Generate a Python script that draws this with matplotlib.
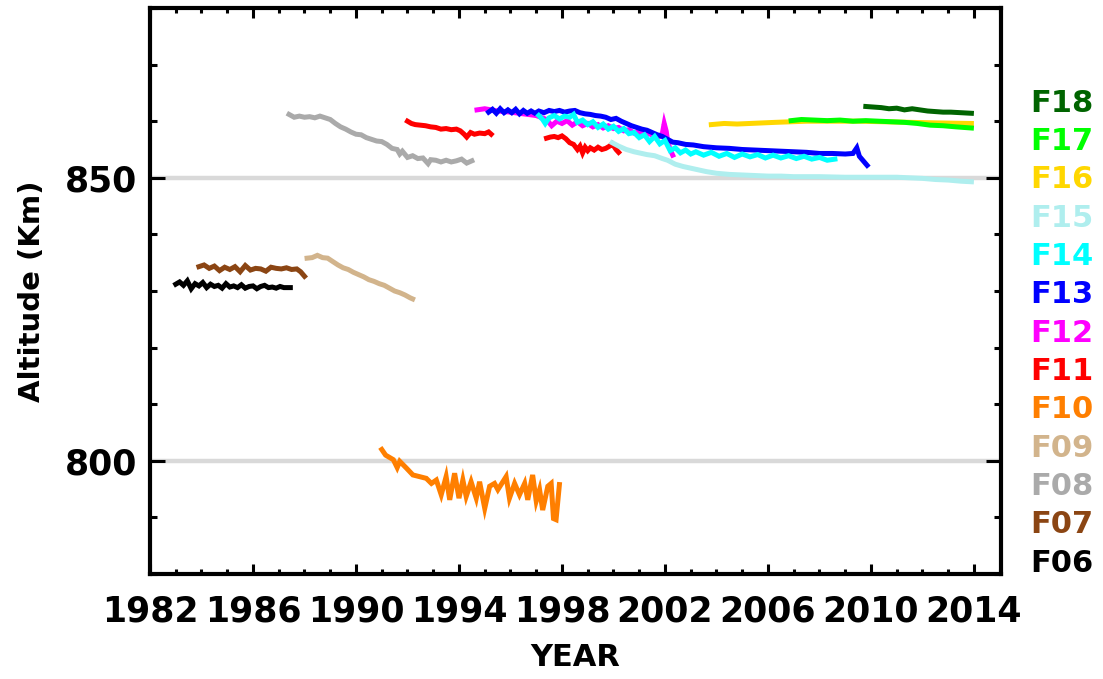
import numpy as np
import matplotlib
matplotlib.use("Agg")
import matplotlib.pyplot as plt

plt.rcParams['font.family'] = ['DejaVu Sans']
plt.rcParams['font.weight'] = 'bold'

# ---------------- data ----------------
f06_year = [1983.0, 1983.15, 1983.3, 1983.45, 1983.6, 1983.75, 1983.9, 1984.05, 1984.2, 1984.35,
            1984.5, 1984.65, 1984.8, 1984.95, 1985.1, 1985.25, 1985.4, 1985.55, 1985.7, 1985.85,
            1986.0, 1986.15, 1986.3, 1986.45, 1986.6, 1986.75, 1986.9, 1987.05, 1987.2, 1987.45]
f06_alt = [831.2, 831.6, 831.0, 831.8, 830.4, 831.3, 830.9, 831.5, 830.6, 831.2,
           830.8, 831.0, 830.5, 831.3, 830.7, 830.9, 830.6, 831.1, 830.5, 830.8,
           830.9, 830.4, 830.8, 831.0, 830.6, 830.7, 830.5, 830.8, 830.6, 830.6]

f07_year = [1983.9, 1984.1, 1984.3, 1984.5, 1984.7, 1984.9, 1985.1, 1985.3, 1985.5, 1985.7,
            1985.9, 1986.1, 1986.3, 1986.5, 1986.7, 1986.9, 1987.1, 1987.3, 1987.5, 1987.7,
            1987.85, 1988.0]
f07_alt = [834.3, 834.6, 834.0, 834.4, 833.6, 834.2, 833.8, 834.3, 833.4, 834.5,
           833.7, 834.0, 833.9, 833.5, 834.2, 834.0, 833.9, 834.1, 833.8, 833.9,
           833.4, 832.6]

f08_year = [1987.4, 1987.6, 1987.8, 1988.0, 1988.2, 1988.4, 1988.6, 1988.8, 1989.0, 1989.2,
            1989.4, 1989.6, 1989.8, 1990.0, 1990.2, 1990.4, 1990.6, 1990.8, 1991.0, 1991.2,
            1991.4, 1991.6, 1991.7, 1991.8, 1992.0, 1992.2, 1992.4, 1992.6, 1992.8, 1992.9,
            1993.1, 1993.3, 1993.5, 1993.7, 1993.9, 1994.1, 1994.3, 1994.5]
f08_alt = [861.2, 860.7, 860.9, 860.7, 860.8, 860.6, 860.9, 860.6, 860.3, 859.6,
           859.0, 858.6, 858.1, 857.7, 857.6, 857.1, 856.8, 856.5, 856.4, 855.9,
           855.2, 855.0, 854.2, 854.7, 853.6, 853.9, 853.4, 853.5, 852.5, 853.2,
           853.1, 852.8, 853.1, 852.8, 853.0, 853.3, 852.6, 853.0]

f09_year = [1988.1, 1988.3, 1988.5, 1988.7, 1988.9, 1989.1, 1989.3, 1989.5, 1989.7, 1989.9,
            1990.1, 1990.3, 1990.5, 1990.7, 1990.9, 1991.1, 1991.3, 1991.5, 1991.7, 1991.9,
            1992.1, 1992.2]
f09_alt = [835.8, 835.9, 836.3, 835.9, 835.8, 835.2, 834.6, 834.1, 833.8, 833.3,
           832.9, 832.5, 832.0, 831.7, 831.3, 831.0, 830.5, 830.0, 829.7, 829.3,
           828.8, 828.6]

f10_year = [1991.0, 1991.15, 1991.3, 1991.45, 1991.6, 1991.7, 1991.96, 1992.21, 1992.47, 1992.73,
            1992.93, 1993.12, 1993.31, 1993.5, 1993.64, 1993.83, 1994.0, 1994.15, 1994.28, 1994.47,
            1994.67, 1994.8, 1995.0, 1995.19, 1995.38, 1995.51, 1995.83, 1995.96, 1996.16, 1996.35,
            1996.55, 1996.67, 1996.86, 1997.0, 1997.13, 1997.25, 1997.45, 1997.58, 1997.67, 1997.77,
            1997.9]
f10_alt = [802.0, 801.0, 800.6, 800.2, 798.8, 799.9, 798.7, 797.5, 797.2, 796.9,
           796.0, 796.6, 794.0, 797.2, 793.1, 797.8, 793.4, 796.6, 793.7, 796.3,
           793.4, 796.3, 791.6, 795.5, 796.0, 794.9, 797.2, 793.4, 796.0, 794.0,
           796.0, 793.1, 797.5, 792.9, 794.9, 791.3, 795.5, 796.0, 789.8, 789.6,
           795.8]

f11_year = [1992.0, 1992.15, 1992.3, 1992.5, 1992.7, 1992.9, 1993.1, 1993.3, 1993.5, 1993.7,
            1993.9, 1994.05, 1994.2, 1994.3, 1994.45, 1994.6, 1994.8, 1995.0, 1995.15, 1995.25,
            np.nan,
            1997.4, 1997.55, 1997.7, 1997.85, 1998.0, 1998.15, 1998.3, 1998.45, 1998.6, 1998.7,
            1998.8, 1998.9, 1999.0, 1999.1, 1999.25, 1999.4, 1999.55, 1999.7, 1999.85, 1999.95,
            2000.1, 2000.2]
f11_alt = [860.0, 859.6, 859.4, 859.3, 859.2, 859.0, 858.9, 858.6, 858.7, 858.5,
           858.6, 858.3, 857.7, 857.2, 858.0, 857.7, 857.9, 857.8, 858.1, 857.7,
           np.nan,
           857.0, 857.2, 857.3, 857.1, 857.4, 856.9, 856.2, 855.9, 855.0, 855.6,
           854.4, 855.4, 854.8, 855.3, 854.9, 855.4, 855.0, 855.2, 855.6, 856.0,
           855.0, 854.5]

f12_year = [1994.7, 1995.0, 1995.5, 1996.0, 1996.5, 1997.0, 1997.4, 1997.6, 1997.8, 1998.0,
            1998.2, 1998.4, 1998.6, 1998.8, 1999.0, 1999.2, 1999.4, 1999.6, 1999.8, 2000.0,
            2000.2, 2000.4, 2000.6, 2000.8, 2001.0, 2001.2, 2001.4, 2001.6, 2001.8, 2001.9,
            2001.97, 2002.05, 2002.1, 2002.2, 2002.3]
f12_alt = [862.0, 862.2, 861.8, 861.6, 861.3, 861.0, 860.3, 859.2, 860.0, 859.6,
           860.1, 859.3, 859.9, 859.2, 859.6, 859.0, 859.4, 858.8, 859.2, 858.7,
           858.9, 858.3, 858.5, 857.9, 858.1, 857.6, 857.8, 857.2, 857.3, 857.9,
           859.6, 858.2, 856.5, 855.0, 854.0]

f13_year = [1995.15, 1995.3, 1995.45, 1995.6, 1995.75, 1995.9, 1996.05, 1996.2, 1996.35, 1996.5,
            1996.65, 1996.8, 1996.95, 1997.1, 1997.3, 1997.5, 1997.7, 1997.9, 1998.1, 1998.3,
            1998.5, 1998.7, 1998.9, 1999.1, 1999.3, 1999.5, 1999.7, 1999.9, 2000.1, 2000.3,
            2000.5, 2000.7, 2000.9, 2001.1, 2001.3, 2001.5, 2001.7, 2001.9, 2002.1, 2002.3,
            2002.5, 2002.8, 2003.1, 2003.5, 2004.0, 2004.5, 2005.0, 2005.5, 2006.0, 2006.5,
            2007.0, 2007.5, 2008.0, 2008.5, 2009.0, 2009.3, 2009.45, 2009.55, 2009.7, 2009.85]
f13_alt = [861.6, 862.1, 861.4, 862.2, 861.5, 862.0, 861.5, 862.1, 861.3, 861.9,
           861.4, 861.8, 861.4, 861.8, 861.5, 861.9, 861.7, 861.9, 861.6, 861.8,
           861.9, 861.5, 861.3, 861.2, 861.0, 860.9, 860.7, 860.3, 860.5, 860.0,
           859.6, 859.2, 858.9, 858.6, 858.4, 858.0, 857.6, 857.3, 856.8, 856.3,
           856.2, 855.9, 855.8, 855.5, 855.3, 855.2, 855.0, 854.9, 854.8, 854.7,
           854.6, 854.5, 854.3, 854.3, 854.2, 854.3, 855.3, 853.8, 853.0, 852.2]

f14_year = [1997.1, 1997.25, 1997.35, 1997.5, 1997.7, 1997.9, 1998.1, 1998.3, 1998.45, 1998.6,
            1998.8, 1999.0, 1999.2, 1999.4, 1999.6, 1999.8, 2000.0, 2000.2, 2000.4, 2000.6,
            2000.8, 2001.0, 2001.2, 2001.4, 2001.6, 2001.8, 2002.0, 2002.2, 2002.4, 2002.6,
            2002.8, 2003.0, 2003.2, 2003.5, 2003.8, 2004.1, 2004.4, 2004.7, 2005.0, 2005.3,
            2005.6, 2005.9, 2006.2, 2006.5, 2006.8, 2007.1, 2007.4, 2007.7, 2008.0, 2008.3,
            2008.6]
f14_alt = [861.0, 860.3, 859.6, 860.6, 861.0, 860.4, 860.9, 860.7, 861.2, 859.8,
           860.2, 859.4, 859.9, 858.9, 859.5, 858.6, 859.1, 858.2, 858.7, 857.8,
           858.0, 857.1, 857.6, 856.4, 857.3, 856.0, 856.6, 854.8, 855.3, 854.4,
           854.9, 854.2, 854.6, 854.0, 854.5, 853.8, 854.3, 853.6, 854.2, 853.7,
           854.1, 853.5, 854.0, 853.5, 853.9, 853.4, 853.8, 853.3, 853.6, 853.1,
           853.3]

f15_year = [1999.95, 2000.2, 2000.5, 2000.8, 2001.0, 2001.3, 2001.6, 2001.9, 2002.1, 2002.4,
            2002.7, 2003.0, 2003.3, 2003.6, 2004.0, 2004.5, 2005.0, 2005.5, 2006.0, 2006.5,
            2007.0, 2008.0, 2009.0, 2010.0, 2011.0, 2011.5, 2012.0, 2012.5, 2013.0, 2013.5,
            2013.9]
f15_alt = [856.2, 855.6, 855.0, 854.6, 854.4, 854.1, 853.9, 853.4, 853.1, 852.4,
           852.0, 851.7, 851.4, 851.1, 850.8, 850.6, 850.5, 850.4, 850.3, 850.3,
           850.2, 850.2, 850.1, 850.1, 850.1, 850.0, 849.9, 849.7, 849.6, 849.4,
           849.3]

f16_year = [2003.8, 2004.3, 2004.8, 2005.3, 2005.8, 2006.3, 2006.9, 2007.5, 2008.5, 2009.5,
            2010.5, 2011.5, 2012.5, 2013.9]
f16_alt = [859.4, 859.6, 859.5, 859.6, 859.7, 859.8, 859.9, 860.0, 860.0, 860.0,
           859.9, 859.8, 859.7, 859.6]

f17_year = [2006.9, 2007.3, 2007.8, 2008.3, 2008.8, 2009.3, 2009.8, 2010.3, 2010.8, 2011.3,
            2011.8, 2012.3, 2012.8, 2013.3, 2013.9]
f17_alt = [860.1, 860.3, 860.2, 860.1, 860.2, 860.0, 860.1, 860.0, 859.9, 859.8,
           859.6, 859.3, 859.2, 859.0, 858.8]

f18_year = [2009.8, 2010.1, 2010.4, 2010.7, 2011.0, 2011.3, 2011.6, 2011.9, 2012.2, 2012.5,
            2012.8, 2013.1, 2013.5, 2013.9]
f18_alt = [862.6, 862.5, 862.4, 862.2, 862.3, 862.0, 862.2, 862.0, 861.8, 861.7,
           861.6, 861.6, 861.5, 861.4]

names = ["F06", "F07", "F08", "F09", "F10", "F11", "F12", "F13", "F14", "F15", "F16", "F17", "F18"]
colors = ["#000000", "#8B4513", "#AAAAAA", "#D2B48C", "#FF7F00", "#FF0000", "#FF00FF",
          "#0000FF", "#00FFFF", "#AFEEEE", "#FFD700", "#00FF00", "#006400"]
years = [f06_year, f07_year, f08_year, f09_year, f10_year, f11_year, f12_year,
         f13_year, f14_year, f15_year, f16_year, f17_year, f18_year]
alts = [f06_alt, f07_alt, f08_alt, f09_alt, f10_alt, f11_alt, f12_alt,
        f13_alt, f14_alt, f15_alt, f16_alt, f17_alt, f18_alt]

ref_lines = [800, 850]
x_ticks = [1982, 1986, 1990, 1994, 1998, 2002, 2006, 2010, 2014]
y_ticks = [800, 850]

# ---------------- figure ----------------
fig = plt.figure(figsize=(11.03, 6.79), dpi=100)
ax = fig.add_axes([150/1103, 1 - 574/679, (1001-150)/1103, (574-8)/679])

for yl in ref_lines:
    ax.axhline(yl, color="#D9D9D9", lw=3.2, zorder=1)

for yr, al, c in zip(years, alts, colors):
    ax.plot(yr, al, color=c, lw=3.6, solid_joinstyle="miter", zorder=2)

ax.set_xlim(1982, 2015.05)
ax.set_ylim(780, 880)
ax.set_xticks(x_ticks)
ax.set_xticks(np.arange(1982, 2016, 1), minor=True)
ax.set_yticks(y_ticks)
ax.set_yticks(np.arange(780, 881, 10), minor=True)

for s in ax.spines.values():
    s.set_linewidth(3)

ax.tick_params(axis="x", which="both", direction="in", top=True, bottom=True, width=2.2,
               labelsize=25, pad=15)
ax.tick_params(axis="x", which="major", length=7.5)
ax.tick_params(axis="x", which="minor", length=3.3)
ax.tick_params(axis="y", which="both", direction="in", left=True, right=True, width=2.2,
               labelsize=25, pad=9)
ax.tick_params(axis="y", which="major", length=11)
ax.tick_params(axis="y", which="minor", length=5)
for lab in ax.get_xticklabels() + ax.get_yticklabels():
    lab.set_fontweight("bold")

ax.set_xlabel("YEAR", fontsize=22, fontweight="bold", labelpad=10)
ax.set_ylabel("Altitude (Km)", fontsize=21, fontweight="bold", labelpad=14)

# colored satellite labels on the right
for i, (n, c) in enumerate(zip(names, colors)):
    ypx = 563 - i * 38.3
    fig.text(1030/1103, 1 - ypx/679, n, color=c, fontsize=22, fontweight="bold",
             ha="left", va="center")

fig.savefig("out.png", dpi=100)
